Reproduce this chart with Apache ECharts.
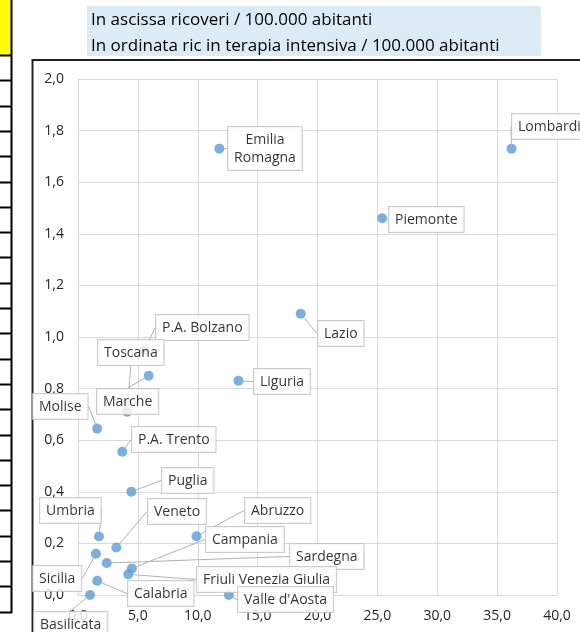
<!DOCTYPE html>
<html>
<head>
<meta charset="utf-8">
<script src="https://cdn.jsdelivr.net/npm/echarts@6/dist/echarts.min.js"></script>
<style>
  html, body { margin: 0; padding: 0; background: #fff; }
  #chart { width: 580px; height: 632px; }
</style>
</head>
<body>
<div id="chart"></div>
<script>
// regions, hospitalised / 100k (x) and ICU / 100k (y)
const regions = [
  'Lombardia', 'Emilia\nRomagna', 'Piemonte', 'Lazio', 'P.A. Bolzano', 'Toscana', 'Marche',
  'Liguria', 'Molise', 'P.A. Trento', 'Puglia', 'Umbria', 'Veneto', 'Abruzzo', 'Campania',
  'Sardegna', 'Friuli Venezia Giulia', 'Sicilia', 'Calabria', 'Basilicata', "Valle d'Aosta"
];
const ricoveri = [
  36.2, 11.8, 25.4, 18.6, 5.6, 4.1, 5.9,
  13.4, 1.6, 3.7, 4.45, 1.75, 3.2, 9.9, 4.5,
  2.4, 4.2, 1.5, 1.6, 1.0, 12.6
];
const terapiaIntensiva = [
  1.73, 1.73, 1.46, 1.09, 0.95, 0.71, 0.85,
  0.83, 0.645, 0.555, 0.40, 0.227, 0.184, 0.228, 0.103,
  0.124, 0.08, 0.16, 0.055, 0.0, 0.0
];
const titleLines = [
  'In ascissa ricoveri / 100.000 abitanti',
  'In ordinata ric in terapia intensiva / 100.000 abitanti'
];

// where each callout box sits (top-left, px)
const calloutAt = {
  'Lombardia': [512, 114],
  'Emilia\nRomagna': [229, 127],
  'Piemonte': [389, 207],
  'Lazio': [318, 321],
  'P.A. Bolzano': [156, 315],
  'Toscana': [98, 340],
  'Marche': [97, 389],
  'Liguria': [254, 369],
  'Molise': [33, 394],
  'P.A. Trento': [132, 427],
  'Puglia': [162, 468],
  'Umbria': [40, 498],
  'Veneto': [148, 499],
  'Abruzzo': [245, 498],
  'Campania': [206, 527],
  'Sardegna': [290, 544],
  'Friuli Venezia Giulia': [197, 567],
  'Sicilia': [33, 566],
  'Calabria': [128, 581],
  'Basilicata': [34, 612],
  "Valle d'Aosta": [238, 587]
};

const FONT = '"Open Sans", "Noto Sans", sans-serif';
const fmt = (v) => v.toFixed(1).replace('.', ',');

const points = regions.map((name, i) => ({ name, value: [ricoveri[i], terapiaIntensiva[i]] }));

// the spreadsheet bits around the chart
const sheet = [
  { type: 'rect', shape: { x: 0, y: 0, width: 11, height: 55 }, style: { fill: '#ffff00' }, silent: true },
  { type: 'line', shape: { x1: 11.5, y1: 0, x2: 11.5, y2: 613 }, style: { stroke: '#000', lineWidth: 2 }, silent: true }
];
for (let k = 0; k <= 22; k++) {
  const y = Math.round(55 + k * 25.3) + 0.5;
  sheet.push({ type: 'line', shape: { x1: 0, y1: y, x2: 12, y2: y }, style: { stroke: '#000', lineWidth: 2 }, silent: true });
}
sheet.push(
  { type: 'rect', shape: { x: 87, y: 6, width: 454, height: 50 }, style: { fill: '#ddebf7' }, silent: true },
  { type: 'text', left: 91, top: 7, style: { text: titleLines.join('\n'), font: '17px ' + FONT, fill: '#000', lineHeight: 26 }, silent: true },
  { type: 'polyline', shape: { points: [[32.5, 640], [32.5, 60], [590, 60]] }, style: { stroke: '#222', lineWidth: 2, fill: null }, silent: true }
);

const chart = echarts.init(document.getElementById('chart'), null, { renderer: 'canvas' });
chart.setOption({
  animation: false,
  graphic: { elements: sheet },
  grid: { left: 78, top: 79, width: 479, height: 516, containLabel: false },
  xAxis: {
    type: 'value', min: 0, max: 40, interval: 5,
    axisLine: { show: true, lineStyle: { color: '#d9d9d9' } },
    axisTick: { show: false },
    splitLine: { show: true, lineStyle: { color: '#d9d9d9' } },
    axisLabel: { formatter: fmt, color: '#262626', fontFamily: FONT, fontSize: 14, margin: 14 }
  },
  yAxis: {
    type: 'value', min: 0, max: 2, interval: 0.2,
    axisLine: { show: true, lineStyle: { color: '#d9d9d9' } },
    axisTick: { show: false },
    splitLine: { show: true, lineStyle: { color: '#d9d9d9' } },
    axisLabel: { formatter: fmt, color: '#262626', fontFamily: FONT, fontSize: 14, margin: 14 }
  },
  series: [{
    type: 'scatter',
    data: points,
    symbolSize: 10,
    itemStyle: { color: '#5b9bd5' },
    emphasis: { disabled: true },
    label: {
      show: true,
      formatter: '{b}',
      color: '#000',
      fontFamily: FONT,
      fontSize: 14,
      lineHeight: 18,
      backgroundColor: '#fff',
      borderColor: '#bfbfbf',
      borderWidth: 1,
      padding: [4, 6, 3, 6]
    },
    labelLine: { show: true, lineStyle: { color: '#b0b0b0', width: 1 } },
    labelLayout: (p) => {
      const name = regions[p.dataIndex];
      const at = calloutAt[name];
      if (name.indexOf('\n') >= 0) {
        return { x: at[0] + 36, y: at[1], align: 'center', verticalAlign: 'top' };
      }
      return { x: at[0], y: at[1], align: 'left', verticalAlign: 'top' };
    }
  }]
});
</script>
</body>
</html>
